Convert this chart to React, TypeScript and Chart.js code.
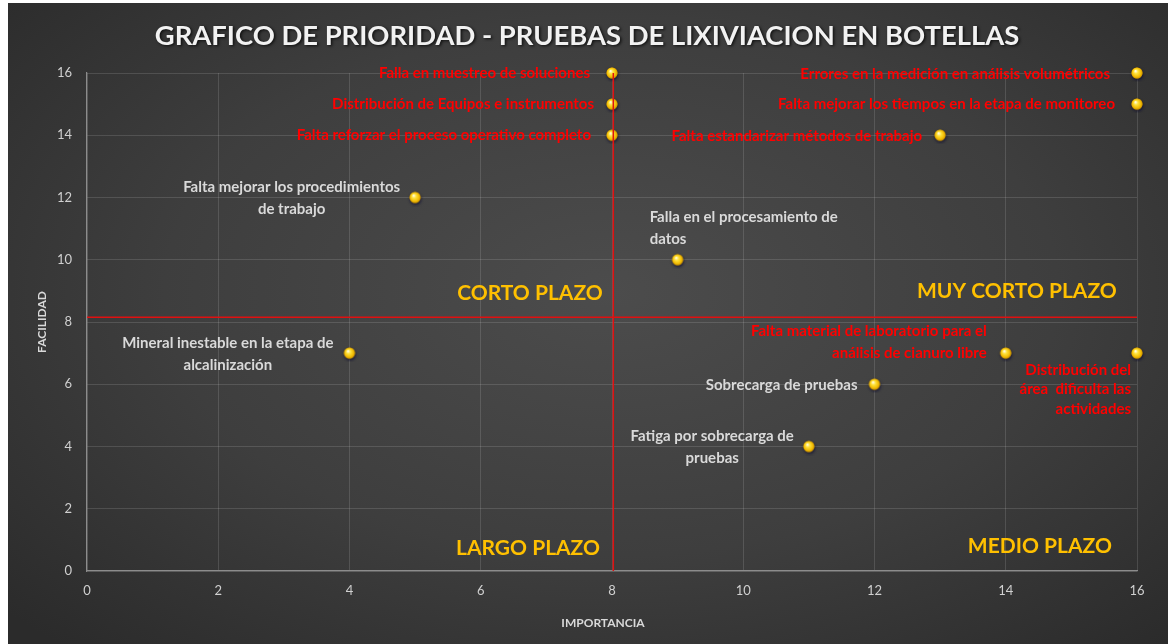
import React, { useEffect, useRef } from "react";
import { Chart, registerables } from "chart.js";

Chart.register(...registerables);

// ---------- DATA ----------
const TITLE = "GRAFICO DE PRIORIDAD - PRUEBAS DE LIXIVIACION EN BOTELLAS";
const X_TITLE = "IMPORTANCIA";
const Y_TITLE = "FACILIDAD";

const importancia = [8, 8, 8, 16, 16, 13, 5, 9, 4, 14, 16, 12, 11];
const facilidad = [16, 15, 14, 16, 15, 14, 12, 10, 7, 7, 7, 6, 4];

const pointLabels: string[][] = [
  ["Falla en muestreo de soluciones"],
  ["Distribución de Equipos e instrumentos"],
  ["Falta reforzar el proceso operativo completo"],
  ["Errores en la medición en análisis volumétricos"],
  ["Falta mejorar los tiempos en la etapa de monitoreo"],
  ["Falta estandarizar métodos de trabajo"],
  ["Falta mejorar los procedimientos", "de trabajo"],
  ["Falla en el procesamiento de", "datos"],
  ["Mineral inestable en la etapa de", "alcalinización"],
  ["Falta material de laboratorio para el", "análisis de cianuro libre"],
  ["Distribución del", "área  dificulta las", "actividades"],
  ["Sobrecarga de pruebas"],
  ["Fatiga por sobrecarga de", "pruebas"],
];
const urgent = [true, true, true, true, true, true, false, false, false, true, true, false, false];

const X_MIN = 0, X_MAX = 16, Y_MIN = 0, Y_MAX = 16, STEP = 2;
const DIVIDER_X = 8.02;
const DIVIDER_Y = 8.15;

const quadrantNames = ["CORTO PLAZO", "MUY CORTO PLAZO", "LARGO PLAZO", "MEDIO PLAZO"];

// ---------- LAYOUT / STYLE ----------
const quadrantAnchors = [
  { x: 6.75, y: 8.93 },
  { x: 14.17, y: 9.0 },
  { x: 6.72, y: 0.74 },
  { x: 14.52, y: 0.8 },
];
// mode: r = lines right-aligned at point+dx, l = left aligned, c = block centered whose right edge is point+dx
const labelPlace = [
  { m: "r", dx: -22, dy: 0 },
  { m: "r", dx: -18, dy: 0 },
  { m: "r", dx: -21, dy: 0 },
  { m: "r", dx: -27, dy: 1 },
  { m: "r", dx: -22, dy: 0 },
  { m: "r", dx: -18, dy: 1 },
  { m: "c", dx: -15, dy: -10 },
  { m: "l", dx: -28, dy: -43 },
  { m: "c", dx: -16, dy: -10 },
  { m: "r", dx: -19, dy: -22 },
  { m: "r", dx: -6, dy: 17 },
  { m: "r", dx: -17, dy: 1 },
  { m: "c", dx: -15, dy: -10 },
];
const FONT = "Lato, 'Open Sans', sans-serif";

function makeMarker(): HTMLCanvasElement {
  const c = document.createElement("canvas");
  c.width = 18;
  c.height = 18;
  const g = c.getContext("2d")!;
  g.save();
  g.shadowColor = "rgba(10,10,50,0.85)";
  g.shadowBlur = 3;
  g.shadowOffsetX = 0.5;
  g.shadowOffsetY = 1.5;
  g.beginPath();
  g.arc(9, 9, 5.5, 0, Math.PI * 2);
  g.fillStyle = "#d9a400";
  g.fill();
  g.restore();
  const grad = g.createRadialGradient(7.5, 7, 0.5, 9, 9, 6);
  grad.addColorStop(0, "#fffbd8");
  grad.addColorStop(0.3, "#ffe23a");
  grad.addColorStop(0.75, "#f0b800");
  grad.addColorStop(1, "#b07800");
  g.beginPath();
  g.arc(9, 9, 5.5, 0, Math.PI * 2);
  g.fillStyle = grad;
  g.fill();
  return c;
}

const decorPlugin = {
  id: "decor",
  beforeDatasetsDraw(chart: any) {
    const { ctx, scales } = chart;
    const xs = scales.x, ys = scales.y;
    ctx.save();
    ctx.font = `bold 21px ${FONT}`;
    ctx.fillStyle = "#ffc000";
    ctx.textAlign = "center";
    ctx.textBaseline = "middle";
    quadrantNames.forEach((n, i) => {
      ctx.fillText(n, xs.getPixelForValue(quadrantAnchors[i].x), ys.getPixelForValue(quadrantAnchors[i].y));
    });
    ctx.restore();
  },
  afterDatasetsDraw(chart: any) {
    const { ctx } = chart;
    const meta = chart.getDatasetMeta(2);
    ctx.save();
    ctx.font = `bold 15px ${FONT}`;
    ctx.textBaseline = "middle";
    meta.data.forEach((pt: any, i: number) => {
      const lines = pointLabels[i];
      const p = labelPlace[i];
      const lh = lines.length === 3 ? 19.5 : 22;
      ctx.fillStyle = urgent[i] ? "#ff0000" : "#d9d9d9";
      const maxW = Math.max(...lines.map((l) => ctx.measureText(l).width));
      lines.forEach((l, k) => {
        const y = pt.y + p.dy + k * lh;
        if (p.m === "r") {
          ctx.textAlign = "right";
          ctx.fillText(l, pt.x + p.dx, y);
        } else if (p.m === "l") {
          ctx.textAlign = "left";
          ctx.fillText(l, pt.x + p.dx, y);
        } else {
          ctx.textAlign = "center";
          ctx.fillText(l, pt.x + p.dx - maxW / 2, y);
        }
      });
    });
    ctx.restore();
  },
  afterDraw(chart: any) {
    const { ctx } = chart;
    ctx.save();
    ctx.font = `bold 27.4px ${FONT}`;
    ctx.fillStyle = "#f2f2f2";
    ctx.textAlign = "center";
    ctx.textBaseline = "middle";
    ctx.shadowColor = "rgba(0,0,0,0.75)";
    ctx.shadowBlur = 3;
    ctx.shadowOffsetX = 1.5;
    ctx.shadowOffsetY = 1.5;
    ctx.fillText(TITLE, 579, 33);
    ctx.restore();

    ctx.save();
    ctx.font = `bold 12px ${FONT}`;
    ctx.fillStyle = "#d9d9d9";
    ctx.textAlign = "center";
    ctx.textBaseline = "middle";
    ctx.fillText(X_TITLE, 595, 620);
    ctx.translate(34, 319);
    ctx.rotate(-Math.PI / 2);
    ctx.fillText(Y_TITLE, 0, 0);
    ctx.restore();
  },
};

export default function App() {
  const ref = useRef<HTMLCanvasElement>(null);
  useEffect(() => {
    const marker = makeMarker();
    const pts = importancia.map((x, i) => ({ x, y: facilidad[i] }));
    const chart = new Chart(ref.current!, {
      type: "scatter",
      data: {
        datasets: [
          {
            data: [{ x: DIVIDER_X, y: Y_MIN }, { x: DIVIDER_X, y: Y_MAX }],
            showLine: true,
            borderColor: "#e01010",
            borderWidth: 1.5,
            pointRadius: 0,
          },
          {
            data: [{ x: X_MIN, y: DIVIDER_Y }, { x: X_MAX, y: DIVIDER_Y }],
            showLine: true,
            borderColor: "#e01010",
            borderWidth: 1.5,
            pointRadius: 0,
          },
          {
            data: pts,
            pointStyle: marker as any,
            pointRadius: 6,
            clip: false as any,
          },
        ],
      },
      options: {
        animation: false,
        responsive: false,
        layout: { padding: { top: 70, right: 31, left: 0, bottom: 0 } },
        plugins: { legend: { display: false }, tooltip: { enabled: false }, title: { display: false } },
        scales: {
          x: {
            type: "linear",
            min: X_MIN,
            max: X_MAX,
            afterFit: (s: any) => { s.height = 73; },
            ticks: { stepSize: STEP, color: "#d0d0d0", font: { family: FONT, size: 13 }, padding: 12 },
            grid: { color: "rgba(255,255,255,0.13)", drawTicks: false },
            border: { color: "#8c8c8c", width: 1.2 },
          },
          y: {
            type: "linear",
            min: Y_MIN,
            max: Y_MAX,
            afterFit: (s: any) => { s.width = 79; },
            ticks: { stepSize: STEP, color: "#d0d0d0", font: { family: FONT, size: 13 }, padding: 15 },
            grid: { color: "rgba(255,255,255,0.13)", drawTicks: false },
            border: { color: "#8c8c8c", width: 1.2 },
          },
        },
      },
      plugins: [decorPlugin],
    });
    return () => chart.destroy();
  }, []);
  return (
    <div
      style={{
        position: "absolute",
        left: 8,
        top: 3,
        width: 1160,
        height: 641,
        background: "radial-gradient(ellipse 70% 75% at 52% 45%, #4c4c4c 0%, #3e3e3e 55%, #2b2b2b 100%)",
      }}
    >
      <canvas ref={ref} width={1160} height={641} style={{ width: 1160, height: 641, display: "block" }} />
    </div>
  );
}
